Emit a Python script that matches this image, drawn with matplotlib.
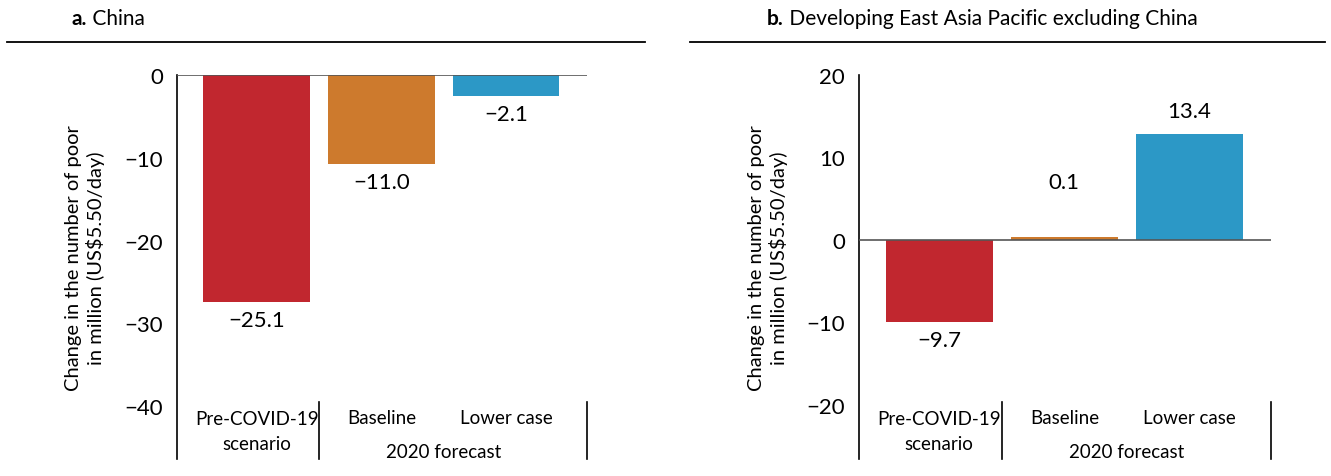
import matplotlib
matplotlib.use("Agg")
import matplotlib.pyplot as plt
from matplotlib.lines import Line2D

# ---------------- data ----------------
categories = ["Pre-COVID-19\nscenario", "Baseline", "Lower case"]
group_label = "2020 forecast"
china_values = [-27.4, -10.8, -2.5]
china_labels = ["\u221225.1", "\u221211.0", "\u22122.1"]
eap_values = [-10.0, 0.3, 12.9]
eap_labels = ["\u22129.7", "0.1", "13.4"]
china_ticks = [0, -10, -20, -30, -40]
eap_ticks = [20, 10, 0, -10, -20]
colors = ["#C1272F", "#CD7A2D", "#2C98C6"]
ylabel = "Change in the number of poor\nin million (US$5.50/day)"

plt.rcParams["font.family"] = ["Lato", "DejaVu Sans"]

W, H = 1331, 477
fig = plt.figure(figsize=(W / 100, H / 100), dpi=100)

def fx(px):
    return px / W

def fy(py):
    return 1 - py / H

FS = 14.5
CAT_FS = 13.5
AX_H = 460 - 76

def afrac(py):
    return (460 - py) / AX_H

def panel(left_px, right_px, values, labels, ticks, ylim, label_offsets, title_letter, title_rest, title_x, line_x0, line_x1, ylabel_x):
    ax = fig.add_axes([fx(left_px), fy(460), fx(right_px - left_px), fy(76) - fy(460)])
    x = list(range(len(values)))
    ax.bar(x, values, width=0.856, color=colors, zorder=2)
    ax.set_xlim(-0.64, 2.65)
    ax.set_ylim(*ylim)
    ax.axhline(0, color="#555555", lw=1.2, zorder=3)
    for s in ["top", "right", "bottom"]:
        ax.spines[s].set_visible(False)
    ax.spines["left"].set_color("black")
    ax.spines["left"].set_linewidth(1.2)
    ax.set_yticks(ticks)
    ax.set_yticklabels([("\u2212" + str(-t)) if t < 0 else str(t) for t in ticks], fontsize=FS + 1.5)
    ax.tick_params(axis="y", length=0, pad=10)
    ax.set_xticks([])
    # bar value labels
    for xi, v, lab, off in zip(x, values, labels, label_offsets):
        ax.annotate(lab, (xi, v), xytext=(0, off), textcoords="offset points",
                    ha="center", va="center", fontsize=FS + 1.5)
    # category labels
    trans = ax.get_xaxis_transform()
    ax.text(0, afrac(432), categories[0], transform=trans, ha="center", va="center", fontsize=CAT_FS, linespacing=1.6)
    ax.text(1, afrac(418), categories[1], transform=trans, ha="center", va="center", fontsize=CAT_FS)
    ax.text(2, afrac(418), categories[2], transform=trans, ha="center", va="center", fontsize=CAT_FS)
    ax.text(1.5, afrac(452), group_label, transform=trans, ha="center", va="center", fontsize=CAT_FS)
    # separators
    for xs in [0.5, 2.65]:
        ax.add_line(Line2D([xs, xs], [0, afrac(403)], transform=trans, color="black", lw=1.2, clip_on=False))
    # y label
    fig.text(fx(ylabel_x), fy(258), ylabel, rotation=90, ha="center", va="center", fontsize=FS, linespacing=1.2)
    # title
    t = fig.text(fx(title_x), fy(19), title_letter, fontweight="bold", fontsize=15, ha="left", va="center")
    ax.annotate(" " + title_rest, xy=(1, 0.5), xycoords=t, ha="left", va="center", fontsize=15,
                annotation_clip=False)
    fig.add_artist(Line2D([fx(line_x0), fx(line_x1)], [fy(43), fy(43)], color="black", lw=1.3))
    return ax

panel(177, 587, china_values, china_labels, china_ticks, (-46.4, 0), [-13, -13, -13],
      "a.", "China", 72, 7, 645, 85)
panel(859, 1271, eap_values, eap_labels, eap_ticks, (-26.6, 20), [-13, 40, 16],
      "b.", "Developing East Asia Pacific excluding China", 767, 690, 1325, 768)

fig.savefig("out.png", dpi=100)
